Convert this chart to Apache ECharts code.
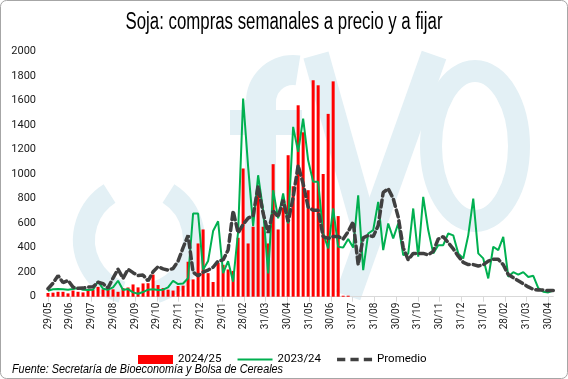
<!DOCTYPE html>
<html><head><meta charset="utf-8">
<script src="https://cdn.jsdelivr.net/npm/echarts@6/dist/echarts.min.js"></script>
<style>html,body{margin:0;padding:0;background:#fff}#c{width:568px;height:379px}</style>
</head><body><div id="c"></div>
<script>
const titleText = 'Soja: compras semanales a precio y a fijar';
const sourceText = 'Fuente: Secretaría de Bioeconomía y Bolsa de Cereales';
const xLabels = ['29/05','29/06','29/07','29/08','29/09','29/10','29/11','29/12','29/01','28/02','31/03','30/04',
  '31/05','30/06','31/07','31/08','30/09','31/10','30/11','31/12','31/01','28/02','31/03','30/04'];
const weeksSpan = 100; // weeks between first and last label
// 2024/25 weekly purchases (bars)
const s2425 = [30,33,40,40,27,50,40,35,57,57,80,60,57,60,40,70,75,100,76,108,110,180,95,70,57,50,
  87,90,285,141,434,548,192,120,277,260,222,210,480,1045,434,570,835,570,434,1080,548,727,1153,900,
  1560,1340,868,1764,1723,1000,1490,1755,657,8,8];
// 2023/24 weekly purchases (green line)
const s2324 = [49,60,62,60,57,62,70,57,54,57,125,65,57,76,130,54,62,35,24,38,57,60,54,57,76,130,
  103,108,150,678,678,220,290,535,615,192,290,122,530,1614,1060,575,990,705,190,868,638,841,597,1384,1180,
  1451,1112,936,936,515,393,719,407,
  400,470,400,827,217,515,543,773,380,597,475,597,339,350,719,326,814,543,353,420,420,515,500,353,312,
  500,800,353,312,149,407,380,488,163,200,180,200,160,170,70,40,35,50];
// Promedio (dashed)
const promedio = [65,110,172,115,133,78,68,70,78,81,118,106,72,152,224,149,224,196,172,176,129,203,245,227,217,230,
  290,400,500,200,170,200,217,240,290,300,380,700,520,590,640,660,900,680,520,700,650,790,610,810,1070,
  920,730,705,705,490,475,490,490,
  470,530,610,260,480,500,490,580,850,880,800,650,400,300,353,353,353,340,370,470,490,440,390,330,280,
  262,262,250,260,290,305,305,260,180,155,130,105,80,60,54,54,50,50];

const tickVals = xLabels.map((_, k) => k * weeksSpan / (xLabels.length - 1));
const toPairs = arr => arr.map((v, i) => [i, v]);

function measure(text, font) {
  const ctx = document.createElement('canvas').getContext('2d');
  ctx.font = font; return ctx.measureText(text).width;
}
const titleFont = '23px "Liberation Sans"';
const titleScale = 317 / measure(titleText, titleFont);
const srcFont = 'italic 12.5px "Liberation Sans"';
const srcScale = 271 / measure(sourceText, srcFont);

const wm = '#e3f0f5';
const chart = echarts.init(document.getElementById('c'), null, {renderer: 'canvas'});
chart.setOption({
  animation: false,
  backgroundColor: '#fff',
  grid: {left: 48, right: 14.7, top: 51.3, bottom: 82.3, containLabel: false},
  graphic: [
    {type: 'rect', z: -20, shape: {x: 0.5, y: 0.5, width: 567, height: 378, r: 6}, style: {fill: 'none', stroke: '#a6a6a6', lineWidth: 1}},
    {type: 'arc', z: -10, shape: {cx: 139, cy: 240, r: 55, startAngle: Math.PI * 0.6, endAngle: Math.PI * 1.32}, style: {fill: 'none', stroke: wm, lineWidth: 22}},
    {type: 'arc', z: -10, shape: {cx: 139, cy: 240, r: 55, startAngle: -Math.PI * 0.32, endAngle: Math.PI * 0.4}, style: {fill: 'none', stroke: wm, lineWidth: 22}},
    {type: 'rect', z: -10, shape: {x: 245, y: 100, width: 31, height: 196}, style: {fill: wm}},
    {type: 'rect', z: -10, shape: {x: 230, y: 110, width: 72, height: 25}, style: {fill: wm}},
    {type: 'arc', z: -10, shape: {cx: 293, cy: 102, r: 32, startAngle: Math.PI, endAngle: Math.PI * 1.55}, style: {fill: 'none', stroke: wm, lineWidth: 30}},
    {type: 'line', z: -10, shape: {x1: 316, y1: 55, x2: 368, y2: 240}, style: {stroke: wm, lineWidth: 26}},
    {type: 'line', z: -10, shape: {x1: 434, y1: 55, x2: 348, y2: 296}, style: {stroke: wm, lineWidth: 26}},
    {type: 'ellipse', z: -10, shape: {cx: 475, cy: 146, rx: 44, ry: 75}, style: {fill: 'none', stroke: wm, lineWidth: 22}},
    {type: 'text', x: 284, y: 23, scaleX: titleScale, style: {text: titleText, font: titleFont, fill: '#000', textAlign: 'center', textVerticalAlign: 'middle', align: 'center', verticalAlign: 'middle'}},
    {type: 'text', x: 12, y: 370, scaleX: srcScale, style: {text: sourceText, font: srcFont, fill: '#000', textAlign: 'left', textVerticalAlign: 'middle', align: 'left', verticalAlign: 'middle'}}
  ],
  legend: {
    left: 133, top: 348.5, itemGap: 16, itemWidth: 35, itemHeight: 9,
    textStyle: {fontFamily: 'Roboto', fontSize: 11.5, color: '#000'},
    data: [
      {name: '2024/25', icon: 'rect'},
      {name: '2023/24', icon: 'path://M0,0h35v2.2h-35z'},
      {name: 'Promedio', icon: 'path://M0,0h8v3.5h-8z M13,0h8v3.5h-8z M26,0h8v3.5h-8z'}
    ]
  },
  xAxis: {
    type: 'value', min: 0, max: 101,
    splitLine: {show: false},
    axisLine: {show: true, lineStyle: {color: '#d9d9d9', width: 1}},
    axisTick: {show: true, customValues: tickVals, length: 5, lineStyle: {color: '#d9d9d9'}},
    axisLabel: {customValues: tickVals, rotate: 90, margin: 6, fontFamily: 'Roboto', fontSize: 10, color: '#1a1a1a',
      formatter: v => xLabels[Math.round(v * (xLabels.length - 1) / weeksSpan)] || ''}
  },
  yAxis: {
    type: 'value', min: 0, max: 2000, interval: 200,
    splitLine: {show: false}, axisLine: {show: false}, axisTick: {show: false},
    axisLabel: {margin: 12, fontFamily: 'Roboto', fontSize: 11, color: '#1a1a1a', formatter: v => String(v)}
  },
  series: [
    {name: '2024/25', type: 'bar', data: toPairs(s2425), barWidth: 3, itemStyle: {color: '#ff0000'}, z: 2},
    {name: '2023/24', type: 'line', data: toPairs(s2324), symbol: 'none', showSymbol: false, lineStyle: {color: '#00b050', width: 2}, itemStyle: {color: '#00b050'}, z: 3, clip: false},
    {name: 'Promedio', type: 'line', data: toPairs(promedio), symbol: 'none', showSymbol: false, lineStyle: {color: '#404040', width: 3.5, type: [7, 4], cap: 'round'}, itemStyle: {color: '#404040'}, z: 4, clip: false}
  ]
});
</script></body></html>
